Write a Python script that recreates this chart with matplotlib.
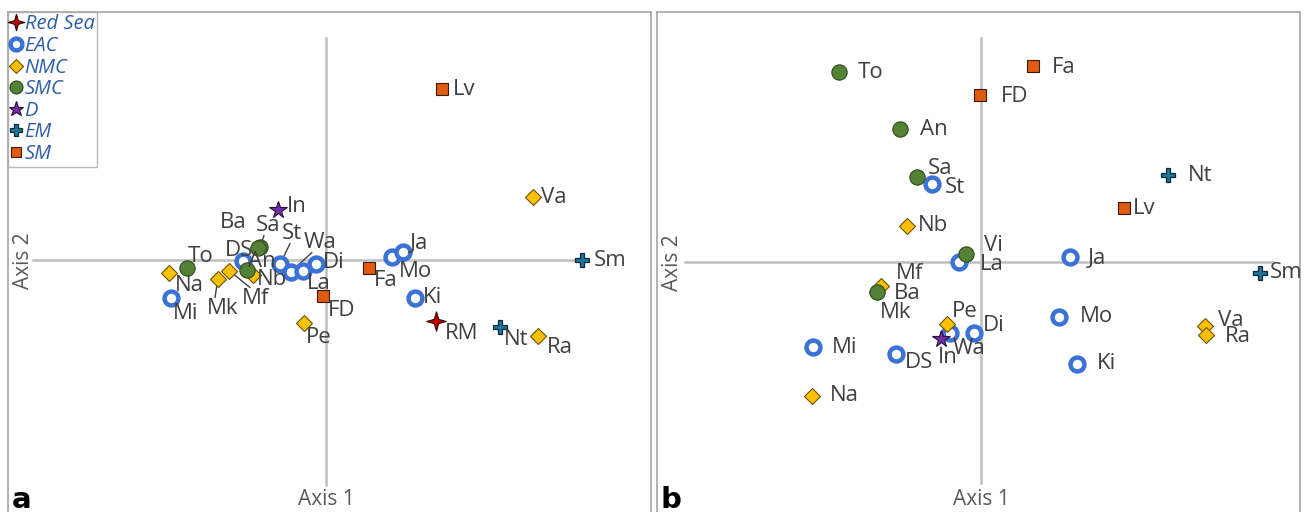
import matplotlib
matplotlib.use("Agg")
import matplotlib.pyplot as plt
from matplotlib.lines import Line2D

plt.rcParams['font.family'] = ['Open Sans', 'DejaVu Sans']

# groups shown in the legend
groups = ["Red Sea", "EAC", "NMC", "SMC", "D", "EM", "SM"]

# panel a: ordination scores (axis 1, axis 2)
a_names = ["RM", "Mi", "DS", "St", "Wa", "La", "Di", "Mo", "Ja", "Ki",
           "Na", "Mk", "Mf", "Nb", "Pe", "Va", "Ra",
           "To", "Sa", "Ba", "An", "In", "Sm", "Nt", "Lv", "Fa", "FD"]
a_group = ["Red Sea", "EAC", "EAC", "EAC", "EAC", "EAC", "EAC", "EAC", "EAC", "EAC",
           "NMC", "NMC", "NMC", "NMC", "NMC", "NMC", "NMC",
           "SMC", "SMC", "SMC", "SMC", "D", "EM", "EM", "SM", "SM", "SM"]
a_x = [1.10, -1.55, -0.83, -0.46, -0.35, -0.23, -0.10, 0.66, 0.77, 0.89,
       -1.57, -1.08, -0.97, -0.73, -0.22, 2.07, 2.12,
       -1.39, -0.66, -0.68, -0.79, -0.48, 2.56, 1.74, 1.16, 0.43, -0.03]
a_y = [-0.60, -0.37, -0.01, -0.04, -0.11, -0.10, -0.04, 0.03, 0.08, -0.37,
       -0.12, -0.18, -0.10, -0.14, -0.62, 0.63, -0.75,
       -0.07, 0.13, 0.12, -0.09, 0.50, 0.00, -0.66, 1.71, -0.07, -0.35]

# panel b: ordination scores (axis 1, axis 2)
b_names = ["Mi", "DS", "St", "Wa", "La", "Di", "Mo", "Ja", "Ki",
           "Na", "Mk", "Mf", "Nb", "Pe", "Va", "Ra",
           "To", "An", "Sa", "Vi", "Ba", "In", "Sm", "Nt", "Lv", "Fa", "FD"]
b_group = ["EAC", "EAC", "EAC", "EAC", "EAC", "EAC", "EAC", "EAC", "EAC",
           "NMC", "NMC", "NMC", "NMC", "NMC", "NMC", "NMC",
           "SMC", "SMC", "SMC", "SMC", "SMC", "D", "EM", "EM", "SM", "SM", "SM"]
b_x = [-1.68, -0.85, -0.49, -0.31, -0.22, -0.07, 0.78, 0.89, 0.96,
       -1.69, -1.04, -1.00, -0.74, -0.34, 2.24, 2.25,
       -1.42, -0.81, -0.64, -0.15, -1.04, -0.40, 2.79, 1.87, 1.43, 0.52, -0.01]
b_y = [-0.84, -0.91, 0.78, -0.70, 0.00, -0.70, -0.54, 0.05, -1.01,
       -1.33, -0.29, -0.23, 0.36, -0.61, -0.63, -0.72,
       1.90, 1.33, 0.85, 0.08, -0.29, -0.76, -0.10, 0.87, 0.54, 1.96, 1.67]

# marker styles per group
star4 = [(0, 1), (0.22, 0.22), (1, 0), (0.22, -0.22), (0, -1), (-0.22, -0.22),
         (-1, 0), (-0.22, 0.22), (0, 1)]
style = {
    "Red Sea": dict(marker=star4, ms=14, mfc="#c00000", mec="#3a0000", mew=0.8),
    "EAC": dict(marker="o", ms=10, mfc="white", mec="#3a72d8", mew=3.2),
    "NMC": dict(marker="D", ms=8, mfc="#ffc000", mec="#6b5200", mew=0.8),
    "SMC": dict(marker="o", ms=11, mfc="#548235", mec="#2f4a1e", mew=0.8),
    "D": dict(marker="*", ms=13, mfc="#7030a0", mec="#2a0a40", mew=0.8),
    "EM": dict(marker="P", ms=10, mfc="#1f7399", mec="#0a2a3a", mew=0.9),
    "SM": dict(marker="s", ms=8, mfc="#e05a10", mec="#3a1a00", mew=0.8),
}

# label offsets in pixels (dx, dy) from the marker
a_off = {"RM": (9, -13), "Mi": (2, -16), "DS": (-18, 11), "St": (2, 31), "Wa": (13, 29),
         "La": (4, -13), "Di": (7, 2), "Mo": (7, -14), "Ja": (7, 9), "Ki": (8, 0),
         "Na": (6, -13), "Mk": (-11, -30), "Mf": (13, -28), "Nb": (4, -5), "Pe": (2, -15),
         "Va": (8, 0), "Ra": (9, -12), "To": (1, 11), "Sa": (-4, 22), "Ba": (-38, 26),
         "An": (1, 8), "In": (9, 4), "Sm": (12, 0), "Nt": (4, -13), "Lv": (11, 0),
         "Fa": (5, -13), "FD": (5, -15)}
a_lead = ["Sa", "St", "Wa", "Mk", "Mf"]
b_off = {"Mi": (19, -1), "DS": (9, -9), "St": (13, -3), "Wa": (3, -16), "La": (21, -2),
         "Di": (9, 7), "Mo": (21, 0), "Ja": (18, -1), "Ki": (20, 0), "Na": (18, 0),
         "Mk": (3, -21), "Mf": (15, 12), "Nb": (11, 1), "Pe": (5, 12), "Va": (13, 5),
         "Ra": (19, -2), "To": (19, 0), "An": (20, 0), "Sa": (11, 9), "Vi": (18, 9),
         "Ba": (17, -2), "In": (-3, -19), "Sm": (10, 0), "Nt": (20, 0), "Lv": (9, 0),
         "Fa": (19, -1), "FD": (21, -1)}

W, H = 1304, 512
fig = plt.figure(figsize=(W / 100, H / 100), dpi=100)
ax_a = fig.add_axes([8 / W, -6 / H, 643 / W, 506 / H])
ax_b = fig.add_axes([657 / W, -6 / H, 643 / W, 506 / H])

txt_col = "#404040"
grid_col = "#bfbfbf"


def draw_panel(ax, names, grp, xs, ys, offs, leads, xlim, ylim, hline, vline, tag):
    ax.set_xlim(*xlim)
    ax.set_ylim(*ylim)
    ax.set_xticks([])
    ax.set_yticks([])
    for s in ax.spines.values():
        s.set_color("#a6a6a6")
        s.set_linewidth(1.2)
    ax.plot(hline, [0, 0], color=grid_col, lw=1.8, zorder=1)
    ax.plot([0, 0], vline, color=grid_col, lw=1.8, zorder=1)
    for g in groups:
        idx = [i for i, gg in enumerate(grp) if gg == g]
        if not idx:
            continue
        st = style[g]
        ax.plot([xs[i] for i in idx], [ys[i] for i in idx], ls="none",
                marker=st["marker"], ms=st["ms"], mfc=st["mfc"], mec=st["mec"],
                mew=st["mew"], zorder=3)
    for n, x, y in zip(names, xs, ys):
        dx, dy = offs[n]
        ax.annotate(n, (x, y), xytext=(dx, dy), textcoords="offset pixels",
                    ha="left", va="center", fontsize=16, color=txt_col, zorder=4)
        if n in leads:
            ax.annotate("", (x, y), xytext=(dx + 8, dy - 10 if dy > 0 else dy + 11),
                        textcoords="offset pixels",
                        arrowprops=dict(arrowstyle="-", color="#404040", lw=1,
                                        shrinkA=0, shrinkB=5), zorder=2)
    ax.text(0, ylim[0] + (ylim[1] - ylim[0]) * 0.036, "Axis 1", ha="center",
            va="center", fontsize=15, color="#595959")
    ax.text(0.024, 0.5 + (0 - sum(ylim) / 2) / (ylim[1] - ylim[0]), "Axis 2",
            rotation=90, ha="center", va="center", fontsize=15, color="#595959",
            transform=ax.transAxes)
    ax.text(0.006, 0.036, tag, transform=ax.transAxes, ha="left", va="center",
            fontsize=21, fontweight="bold", color="black", family="DejaVu Sans")


draw_panel(ax_a, a_names, a_group, a_x, a_y, a_off, a_lead,
           (-3.18, 3.25), (-2.57, 2.48), (-2.93, 2.56), (-2.24, 2.22), "a")
draw_panel(ax_b, b_names, b_group, b_x, b_y, b_off, [],
           (-3.24, 3.19), (-2.55, 2.50), (-2.96, 2.92), (-2.20, 2.24), "b")

handles = []
for g in groups:
    st = style[g]
    handles.append(Line2D([], [], ls="none", marker=st["marker"], ms=st["ms"] * 0.85,
                          mfc=st["mfc"], mec=st["mec"], mew=st["mew"]))
leg = ax_a.legend(handles, groups, loc="upper left", bbox_to_anchor=(0, 1),
                  borderaxespad=0, frameon=True, fancybox=False, handlelength=0.55,
                  handletextpad=0.15, labelspacing=0.08, borderpad=0.12,
                  prop=dict(size=14.5, style="italic"))
leg.get_frame().set_edgecolor("#a6a6a6")
leg.get_frame().set_linewidth(1)
for t in leg.get_texts():
    t.set_color("#2e5ea8")

fig.savefig("out.png", dpi=100)
